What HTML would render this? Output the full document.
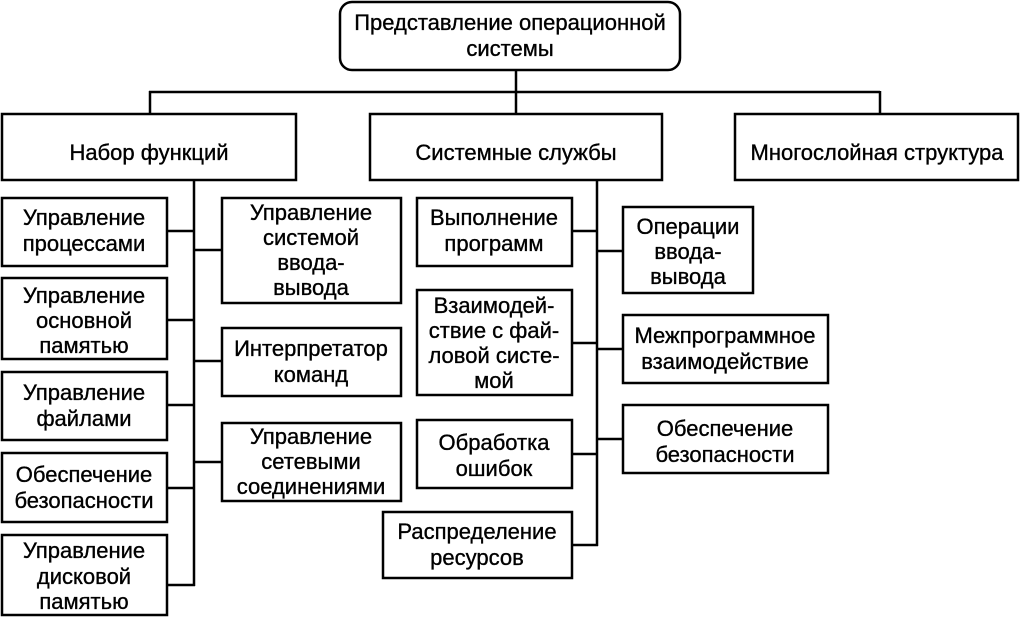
<!DOCTYPE html>
<html><head><meta charset="utf-8"><style>
html,body{margin:0;padding:0;background:#fff;}
svg{display:block;}
text{font-family:"Liberation Sans",Arial,sans-serif;font-size:22px;fill:#000;stroke:#000;stroke-width:0.35;text-anchor:middle;}
rect{fill:#fff;stroke:#000;stroke-width:2.5;}
line{stroke:#000;stroke-width:2.5;}
</style></head><body>
<svg width="1021" height="618" viewBox="0 0 1021 618">
<line x1="516" y1="70" x2="516" y2="114"/>
<line x1="149" y1="92" x2="880" y2="92"/>
<line x1="150" y1="91" x2="150" y2="114"/>
<line x1="880" y1="91" x2="880" y2="114"/>
<line x1="194" y1="180" x2="194" y2="586"/>
<line x1="167" y1="231" x2="194" y2="231"/>
<line x1="194" y1="250" x2="222" y2="250"/>
<line x1="167" y1="320" x2="194" y2="320"/>
<line x1="194" y1="361" x2="222" y2="361"/>
<line x1="167" y1="405" x2="194" y2="405"/>
<line x1="194" y1="462" x2="222" y2="462"/>
<line x1="167" y1="488" x2="194" y2="488"/>
<line x1="167" y1="585" x2="195" y2="585"/>
<line x1="597" y1="180" x2="597" y2="546"/>
<line x1="572" y1="231" x2="597" y2="231"/>
<line x1="597" y1="251" x2="623" y2="251"/>
<line x1="572" y1="343" x2="597" y2="343"/>
<line x1="597" y1="349" x2="623" y2="349"/>
<line x1="572" y1="454" x2="597" y2="454"/>
<line x1="597" y1="439" x2="623" y2="439"/>
<line x1="572" y1="545" x2="598" y2="545"/>
<rect x="340" y="2" width="340" height="68" rx="12"/>
<text x="510" y="30">Представление операционной</text>
<text x="510" y="56">системы</text>
<rect x="2" y="114" width="294" height="66"/>
<text x="149" y="160">Набор функций</text>
<rect x="370" y="114" width="292" height="66"/>
<text x="516" y="160">Системные службы</text>
<rect x="735" y="114" width="283" height="66"/>
<text x="877" y="160">Многослойная структура</text>
<rect x="2" y="198" width="165" height="68"/>
<text x="84" y="225">Управление</text><text x="84" y="251">процессами</text>
<rect x="2" y="278" width="165" height="81"/>
<text x="84" y="303">Управление</text><text x="84" y="328">основной</text><text x="84" y="353">памятью</text>
<rect x="2" y="372" width="165" height="68"/>
<text x="84" y="400">Управление</text><text x="84" y="426">файлами</text>
<rect x="2" y="453" width="165" height="69"/>
<text x="84" y="482">Обеспечение</text><text x="84" y="508">безопасности</text>
<rect x="2" y="535" width="165" height="80"/>
<text x="84" y="558">Управление</text><text x="84" y="584">дисковой</text><text x="84" y="609">памятью</text>
<rect x="222" y="198" width="179" height="105"/>
<text x="311" y="220">Управление</text><text x="311" y="245">системой</text><text x="311" y="270">ввода-</text><text x="311" y="295">вывода</text>
<rect x="222" y="328" width="179" height="68"/>
<text x="311" y="356">Интерпретатор</text><text x="311" y="382">команд</text>
<rect x="222" y="423" width="179" height="78"/>
<text x="311" y="444">Управление</text><text x="311" y="469">сетевыми</text><text x="311" y="494">соединениями</text>
<rect x="417" y="198" width="155" height="68"/>
<text x="494" y="225">Выполнение</text><text x="494" y="251">программ</text>
<rect x="417" y="290" width="155" height="105"/>
<text x="494" y="313">Взаимодей-</text><text x="494" y="338">ствие с фай-</text><text x="494" y="363">ловой систе-</text><text x="494" y="388">мой</text>
<rect x="417" y="420" width="155" height="68"/>
<text x="494" y="450">Обработка</text><text x="494" y="476">ошибок</text>
<rect x="383" y="512" width="189" height="66"/>
<text x="477" y="539">Распределение</text><text x="477" y="565">ресурсов</text>
<rect x="623" y="207" width="130" height="86"/>
<text x="688" y="234">Операции</text><text x="688" y="259">ввода-</text><text x="688" y="284">вывода</text>
<rect x="623" y="315" width="205" height="68"/>
<text x="725" y="343">Межпрограммное</text><text x="725" y="369">взаимодействие</text>
<rect x="623" y="405" width="205" height="68"/>
<text x="725" y="436">Обеспечение</text><text x="725" y="462">безопасности</text>
</svg>
</body></html>
